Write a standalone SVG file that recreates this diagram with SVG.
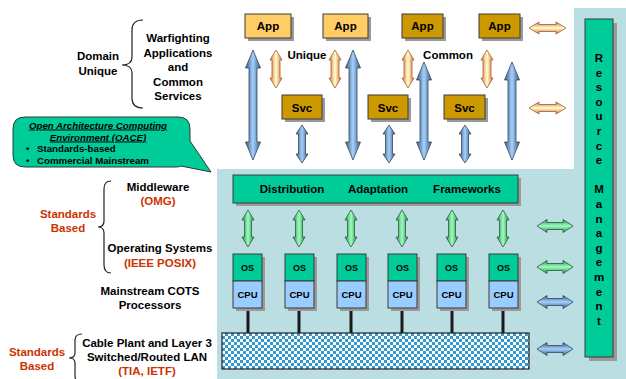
<svg xmlns="http://www.w3.org/2000/svg" width="626" height="379" viewBox="0 0 626 379">
<style>
text{font-family:"Liberation Sans",Arial,sans-serif;font-weight:bold;fill:#000;}
.lbl{font-size:11.5px;text-anchor:middle;}
.red{fill:#CC3300;}
.sm{font-size:9.7px;}
.box{stroke:#3a3a3a;stroke-width:1;}
.shadow{fill:#9a9a9a;}
.green{fill:#00CC99;}
.lt{fill:#FFCC66;}
.dk{fill:#CC9900;}
.cpu{fill:#99CCFF;}
.brace{fill:none;stroke:#222;stroke-width:1.2;}
.ab{fill:url(#gBlueV);stroke:#34485e;stroke-width:0.8;}
.abh{fill:url(#gBlueH);stroke:#34485e;stroke-width:0.8;}
.ao{fill:url(#gOrV);stroke:#a85a2a;stroke-width:0.8;}
.aoh{fill:url(#gOrH);stroke:#a85a2a;stroke-width:0.8;}
.ag{fill:url(#gGrV);stroke:#2a5a3a;stroke-width:0.8;}
.agh{fill:url(#gGrH);stroke:#2a5a3a;stroke-width:0.8;}
.wire{stroke:#1a1a1a;stroke-width:3;}
</style>
<defs>
<linearGradient id="gBlueV" x1="0" y1="0" x2="1" y2="0"><stop offset="0" stop-color="#3e5a7a"/><stop offset="0.5" stop-color="#a3d1ff"/><stop offset="1" stop-color="#3e5a7a"/></linearGradient>
<linearGradient id="gBlueH" x1="0" y1="0" x2="0" y2="1"><stop offset="0" stop-color="#3e5a7a"/><stop offset="0.5" stop-color="#a3d1ff"/><stop offset="1" stop-color="#3e5a7a"/></linearGradient>
<linearGradient id="gOrV" x1="0" y1="0" x2="1" y2="0"><stop offset="0" stop-color="#d9743a"/><stop offset="0.5" stop-color="#ffffd0"/><stop offset="1" stop-color="#d9743a"/></linearGradient>
<linearGradient id="gOrH" x1="0" y1="0" x2="0" y2="1"><stop offset="0" stop-color="#d9743a"/><stop offset="0.5" stop-color="#ffffd0"/><stop offset="1" stop-color="#d9743a"/></linearGradient>
<linearGradient id="gGrV" x1="0" y1="0" x2="1" y2="0"><stop offset="0" stop-color="#2e8a50"/><stop offset="0.5" stop-color="#9cffbe"/><stop offset="1" stop-color="#2e8a50"/></linearGradient>
<linearGradient id="gGrH" x1="0" y1="0" x2="0" y2="1"><stop offset="0" stop-color="#2e8a50"/><stop offset="0.5" stop-color="#9cffbe"/><stop offset="1" stop-color="#2e8a50"/></linearGradient>
<pattern id="checker" patternUnits="userSpaceOnUse" width="6" height="6">
<rect width="6" height="6" fill="#ffffff"/>
<rect width="3" height="3" fill="#3399CC"/>
<rect x="3" y="3" width="3" height="3" fill="#3399CC"/>
</pattern>
</defs>

<!-- background -->
<rect width="626" height="379" fill="#ffffff"/>
<path d="M574,8 H626 V379 H217 V169 H574 Z" fill="#BADEE2"/>

<!-- left texts -->
<g id="domain-text">
<text class="lbl" x="98" y="60">Domain</text>
<text class="lbl" x="98" y="75">Unique</text>
<path class="brace" d="M143,20 Q132,20 132,30 L132,57 Q132,65 122,65 Q132,65 132,73 L132,98 Q132,108 143,108"/>
<text class="lbl" x="178" y="42">Warfighting</text>
<text class="lbl" x="178" y="56.5">Applications</text>
<text class="lbl" x="178" y="71">and</text>
<text class="lbl" x="178" y="85.5">Common</text>
<text class="lbl" x="178" y="100">Services</text>
</g>

<g id="oace-callout">
<path d="M25,117 H178 Q190,117 190,129 V141 L211,172 L181,166 Q179,167 176,167 H25 Q13,167 13,155 V129 Q13,117 25,117 Z" fill="#00CC99" stroke="#2a3a35" stroke-width="1"/>
<text class="sm" x="98" y="128.5" text-anchor="middle" font-style="italic" text-decoration="underline">Open Architecture Computing</text>
<text class="sm" x="98" y="140.5" text-anchor="middle" font-style="italic" text-decoration="underline">Environment (OACE)</text>
<text class="sm" x="26" y="151.5">•</text>
<text class="sm" x="37" y="151.5">Standards-based</text>
<text class="sm" x="26" y="163.5">•</text>
<text class="sm" x="37" y="163.5">Commercial Mainstream</text>
</g>

<g id="standards-mid">
<text class="lbl" x="158" y="191">Middleware</text>
<text class="lbl red" x="158" y="205">(OMG)</text>
<text class="lbl red" x="68" y="218">Standards</text>
<text class="lbl red" x="68" y="232">Based</text>
<path class="brace" d="M111,181 Q104,181 104,189 L104,221 Q104,227 98,227 Q104,227 104,233 L104,265 Q104,273 111,273"/>
<text class="lbl" x="160" y="252">Operating Systems</text>
<text class="lbl red" x="160" y="267">(IEEE POSIX)</text>
</g>

<g id="cots-text">
<text class="lbl" x="150" y="295">Mainstream COTS</text>
<text class="lbl" x="150" y="309">Processors</text>
</g>

<g id="standards-low">
<text class="lbl red" x="37" y="356">Standards</text>
<text class="lbl red" x="37" y="370">Based</text>
<path class="brace" d="M82,334 Q75,334 75,340 L75,353 Q75,358 69,358 Q75,358 75,363 L75,376 Q75,382 82,382"/>
<text class="lbl" x="147" y="347">Cable Plant and Layer 3</text>
<text class="lbl" x="147" y="361">Switched/Routed LAN</text>
<text class="lbl red" x="147" y="375">(TIA, IETF)</text>
</g>

<!-- connectors -->
<g id="connectors">
<!-- big blue vertical arrows -->
<path class="ab" d="M253,50 L260.5,68 L257,68 L257,142 L260.5,142 L253,160 L245.5,142 L249,142 L249,68 L245.5,68 Z"/>
<path class="ab" d="M353,50 L360.5,68 L357,68 L357,142 L360.5,142 L353,160 L345.5,142 L349,142 L349,68 L345.5,68 Z"/>
<path class="ab" d="M424,62 L431.5,80 L428,80 L428,142 L431.5,142 L424,160 L416.5,142 L420,142 L420,80 L416.5,80 Z"/>
<path class="ab" d="M512,62 L519.5,80 L516,80 L516,142 L519.5,142 L512,160 L504.5,142 L508,142 L508,80 L504.5,80 Z"/>
<!-- small blue under Svc -->
<path class="ab" d="M302,125 L308,134 L305.5,134 L305.5,154 L308,154 L302,163 L296,154 L298.5,154 L298.5,134 L296,134 Z"/>
<path class="ab" d="M389,125 L395,134 L392.5,134 L392.5,154 L395,154 L389,163 L383,154 L385.5,154 L385.5,134 L383,134 Z"/>
<path class="ab" d="M465,125 L471,134 L468.5,134 L468.5,154 L471,154 L465,163 L459,154 L461.5,154 L461.5,134 L459,134 Z"/>
<!-- orange vertical -->
<path class="ao" d="M276,50 L282,60 L280,60 L280,78 L282,78 L276,88 L270,78 L272,78 L272,60 L270,60 Z"/>
<path class="ao" d="M335,50 L341,60 L339,60 L339,78 L341,78 L335,88 L329,78 L331,78 L331,60 L329,60 Z"/>
<path class="ao" d="M408,50 L414,60 L412,60 L412,78 L414,78 L408,88 L402,78 L404,78 L404,60 L402,60 Z"/>
<path class="ao" d="M487,50 L493,60 L491,60 L491,78 L493,78 L487,88 L481,78 L483,78 L483,60 L481,60 Z"/>
<!-- orange horizontal -->
<path class="aoh" d="M529,28 L539,22 L539,24.5 L556,24.5 L556,22 L566,28 L556,34 L556,31.5 L539,31.5 L539,34 Z"/>
<path class="aoh" d="M529,108 L539,102 L539,104.5 L556,104.5 L556,102 L566,108 L556,114 L556,111.5 L539,111.5 L539,114 Z"/>
<!-- green vertical -->
<path class="ag" d="M248,210 L254,220 L251.5,220 L251.5,237 L254,237 L248,247 L242,237 L244.5,237 L244.5,220 L242,220 Z"/>
<path class="ag" d="M299,210 L305,220 L302.5,220 L302.5,237 L305,237 L299,247 L293,237 L295.5,237 L295.5,220 L293,220 Z"/>
<path class="ag" d="M351,210 L357,220 L354.5,220 L354.5,237 L357,237 L351,247 L345,237 L347.5,237 L347.5,220 L345,220 Z"/>
<path class="ag" d="M402,210 L408,220 L405.5,220 L405.5,237 L408,237 L402,247 L396,237 L398.5,237 L398.5,220 L396,220 Z"/>
<path class="ag" d="M452,210 L458,220 L455.5,220 L455.5,237 L458,237 L452,247 L446,237 L448.5,237 L448.5,220 L446,220 Z"/>
<path class="ag" d="M503,210 L509,220 L506.5,220 L506.5,237 L509,237 L503,247 L497,237 L499.5,237 L499.5,220 L497,220 Z"/>
<!-- green horizontal -->
<path class="agh" d="M537,226 L547,219.5 L547,222.5 L563,222.5 L563,219.5 L573,226 L563,232.5 L563,229.5 L547,229.5 L547,232.5 Z"/>
<path class="agh" d="M537,267 L547,260.5 L547,263.5 L563,263.5 L563,260.5 L573,267 L563,273.5 L563,270.5 L547,270.5 L547,273.5 Z"/>
<!-- blue horizontal -->
<path class="abh" d="M537,302 L547,295.5 L547,298.5 L563,298.5 L563,295.5 L573,302 L563,308.5 L563,305.5 L547,305.5 L547,308.5 Z"/>
<path class="abh" d="M537,349 L547,342.5 L547,345.5 L563,345.5 L563,342.5 L573,349 L563,355.5 L563,352.5 L547,352.5 L547,355.5 Z"/>
<!-- wires CPU to LAN -->
<line class="wire" x1="248" y1="308" x2="248" y2="333"/>
<line class="wire" x1="299" y1="308" x2="299" y2="333"/>
<line class="wire" x1="351" y1="308" x2="351" y2="333"/>
<line class="wire" x1="402" y1="308" x2="402" y2="333"/>
<line class="wire" x1="452" y1="308" x2="452" y2="333"/>
<line class="wire" x1="503" y1="308" x2="503" y2="333"/>
</g>

<!-- App nodes -->
<g id="app1"><rect class="shadow" x="248" y="17" width="46" height="24"/><rect class="box lt" x="245" y="14" width="46" height="24"/><text class="lbl" x="268" y="30">App</text></g>
<g id="app2"><rect class="shadow" x="326" y="17" width="45" height="24"/><rect class="box lt" x="323" y="14" width="45" height="24"/><text class="lbl" x="345.5" y="30">App</text></g>
<g id="app3"><rect class="shadow" x="405" y="17" width="41" height="24"/><rect class="box dk" x="402" y="14" width="41" height="24"/><text class="lbl" x="422.5" y="30">App</text></g>
<g id="app4"><rect class="shadow" x="482" y="17" width="41" height="24"/><rect class="box dk" x="479" y="14" width="41" height="24"/><text class="lbl" x="499.5" y="30">App</text></g>

<text id="unique-label" class="lbl" x="307" y="59">Unique</text>
<text id="common-label" class="lbl" x="448" y="59">Common</text>

<!-- Svc nodes -->
<g id="svc1"><rect class="shadow" x="285" y="98" width="40" height="24"/><rect class="box dk" x="282" y="95" width="40" height="24"/><text class="lbl" x="302" y="111.5" font-size="12">Svc</text></g>
<g id="svc2"><rect class="shadow" x="371" y="98" width="40" height="24"/><rect class="box dk" x="368" y="95" width="40" height="24"/><text class="lbl" x="388" y="111.5" font-size="12">Svc</text></g>
<g id="svc3"><rect class="shadow" x="447" y="98" width="41" height="24"/><rect class="box dk" x="444" y="95" width="41" height="24"/><text class="lbl" x="464.5" y="111.5" font-size="12">Svc</text></g>

<!-- Middleware bar -->
<g id="middleware">
<rect class="shadow" x="236" y="178" width="285" height="28"/>
<rect class="box green" x="233" y="175" width="285" height="28"/>
<text class="lbl" x="292" y="193">Distribution</text>
<text class="lbl" x="378" y="193">Adaptation</text>
<text class="lbl" x="467" y="193">Frameworks</text>
</g>

<!-- OS/CPU stacks -->
<g id="node1"><rect class="shadow" x="236" y="257" width="29" height="54"/><rect class="box green" x="233" y="254" width="29" height="27"/><rect class="box cpu" x="233" y="281" width="29" height="27"/><text x="247.5" y="271" font-size="9" text-anchor="middle">OS</text><text x="247.5" y="298" font-size="9.5" font-weight="normal" text-anchor="middle">CPU</text></g>
<g id="node2"><rect class="shadow" x="288" y="257" width="29" height="54"/><rect class="box green" x="285" y="254" width="29" height="27"/><rect class="box cpu" x="285" y="281" width="29" height="27"/><text x="299.5" y="271" font-size="9" text-anchor="middle">OS</text><text x="299.5" y="298" font-size="9.5" font-weight="normal" text-anchor="middle">CPU</text></g>
<g id="node3"><rect class="shadow" x="340" y="257" width="29" height="54"/><rect class="box green" x="337" y="254" width="29" height="27"/><rect class="box cpu" x="337" y="281" width="29" height="27"/><text x="351.5" y="271" font-size="9" text-anchor="middle">OS</text><text x="351.5" y="298" font-size="9.5" font-weight="normal" text-anchor="middle">CPU</text></g>
<g id="node4"><rect class="shadow" x="391" y="257" width="29" height="54"/><rect class="box green" x="388" y="254" width="29" height="27"/><rect class="box cpu" x="388" y="281" width="29" height="27"/><text x="402.5" y="271" font-size="9" text-anchor="middle">OS</text><text x="402.5" y="298" font-size="9.5" font-weight="normal" text-anchor="middle">CPU</text></g>
<g id="node5"><rect class="shadow" x="440" y="257" width="29" height="54"/><rect class="box green" x="437" y="254" width="29" height="27"/><rect class="box cpu" x="437" y="281" width="29" height="27"/><text x="451.5" y="271" font-size="9" text-anchor="middle">OS</text><text x="451.5" y="298" font-size="9.5" font-weight="normal" text-anchor="middle">CPU</text></g>
<g id="node6"><rect class="shadow" x="492" y="257" width="29" height="54"/><rect class="box green" x="489" y="254" width="29" height="27"/><rect class="box cpu" x="489" y="281" width="29" height="27"/><text x="503.5" y="271" font-size="9" text-anchor="middle">OS</text><text x="503.5" y="298" font-size="9.5" font-weight="normal" text-anchor="middle">CPU</text></g>

<!-- LAN -->
<g id="lan">
<rect x="222" y="333" width="307" height="36" fill="url(#checker)" stroke="#222" stroke-width="1.2"/>
</g>

<!-- Resource Management -->
<g id="resource-management">
<rect class="shadow" x="589" y="23" width="28" height="338"/>
<rect class="box green" x="585" y="19" width="28" height="338"/>
<text class="lbl" x="599" y="62">R<tspan x="599" dy="14.6">e</tspan><tspan x="599" dy="14.6">s</tspan><tspan x="599" dy="14.6">o</tspan><tspan x="599" dy="14.6">u</tspan><tspan x="599" dy="14.6">r</tspan><tspan x="599" dy="14.6">c</tspan><tspan x="599" dy="14.6">e</tspan><tspan x="599" dy="29.2">M</tspan><tspan x="599" dy="14.6">a</tspan><tspan x="599" dy="14.6">n</tspan><tspan x="599" dy="14.6">a</tspan><tspan x="599" dy="14.6">g</tspan><tspan x="599" dy="14.6">e</tspan><tspan x="599" dy="14.6">m</tspan><tspan x="599" dy="14.6">e</tspan><tspan x="599" dy="14.6">n</tspan><tspan x="599" dy="14.6">t</tspan></text>
</g>
</svg>
